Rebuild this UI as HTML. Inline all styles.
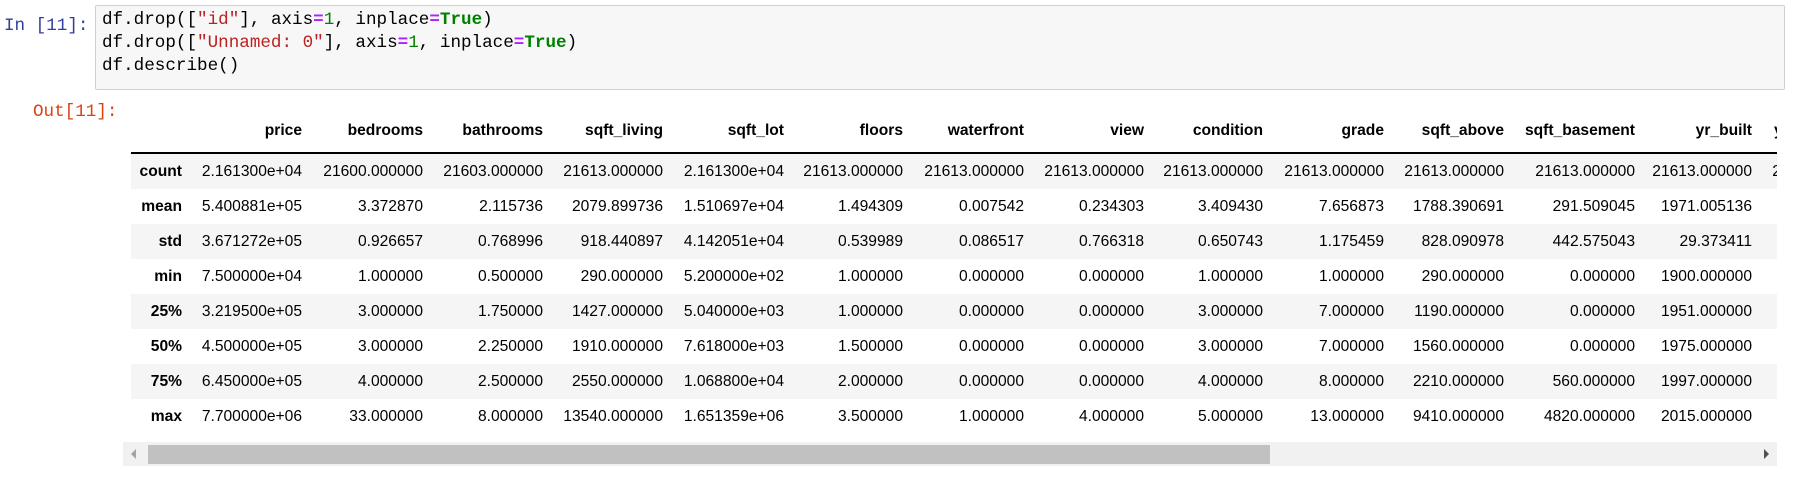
<!DOCTYPE html>
<html><head><meta charset="utf-8"><style>
body{margin:0;width:1800px;height:493px;background:#fff;position:relative;overflow:hidden;font-family:"Liberation Sans",Arial,sans-serif;}
.mono{font-family:"Liberation Mono",monospace;font-size:17.6px;}
#prompt-in{position:absolute;left:4px;top:14px;line-height:24px;color:#303F9F;}
#prompt-out{position:absolute;left:33px;top:100px;line-height:24px;color:#D84315;}
#code{position:absolute;left:95px;top:5px;width:1690px;height:85px;background:#f7f7f7;border:1px solid #cfcfcf;border-radius:2px;box-sizing:border-box;}
#code pre{margin:0;position:absolute;left:6px;top:3px;line-height:23px;color:#000;}
.s{color:#BA2121}.o{color:#AA22FF;font-weight:bold}.n{color:#008000}.k{color:#008000;font-weight:bold}
#wrap{position:absolute;left:131px;top:110px;width:1646px;height:330px;overflow:hidden;}
table{border-collapse:collapse;table-layout:fixed;width:1748px;font-size:15.6px;color:#000;}
td,th{text-align:right;padding:0 7px 0 0;white-space:nowrap;overflow:visible;}
thead th{height:42px;vertical-align:middle;border-bottom:2px solid #000;font-weight:bold;}
tbody td,tbody th{height:35px;}
tbody th{font-weight:bold;}
tbody tr:nth-child(odd){background:#f5f5f5;}
#scroll{position:absolute;left:123px;top:442px;width:1654px;height:24px;background:#f1f1f1;}
#thumb{position:absolute;left:25px;top:3px;width:1122px;height:19px;background:#c1c1c1;}
.arr{position:absolute;top:7px;width:0;height:0;border-top:5px solid transparent;border-bottom:5px solid transparent;}
#al{left:8px;border-right:5px solid #a3a3a3;}
#ar{right:8px;border-left:5px solid #505050;}
</style></head><body>
<div id="prompt-in" class="mono">In [11]:</div>
<div id="code"><pre class="mono">df.drop([<span class="s">"id"</span>], axis<span class="o">=</span><span class="n">1</span>, inplace<span class="o">=</span><span class="k">True</span>)
df.drop([<span class="s">"Unnamed: 0"</span>], axis<span class="o">=</span><span class="n">1</span>, inplace<span class="o">=</span><span class="k">True</span>)
df.describe()</pre></div>
<div id="prompt-out" class="mono">Out[11]:</div>
<div id="wrap">
<table>
<colgroup><col style="width:58px"><col style="width:120px"><col style="width:121px"><col style="width:120px"><col style="width:120px"><col style="width:121px"><col style="width:119px"><col style="width:121px"><col style="width:120px"><col style="width:119px"><col style="width:121px"><col style="width:120px"><col style="width:131px"><col style="width:117px"><col style="width:120px"></colgroup>
<thead><tr><th></th><th>price</th><th>bedrooms</th><th>bathrooms</th><th>sqft_living</th><th>sqft_lot</th><th>floors</th><th>waterfront</th><th>view</th><th>condition</th><th>grade</th><th>sqft_above</th><th>sqft_basement</th><th>yr_built</th><th>yr_renovated</th></tr></thead>
<tbody>
<tr><th>count</th><td>2.161300e+04</td><td>21600.000000</td><td>21603.000000</td><td>21613.000000</td><td>2.161300e+04</td><td>21613.000000</td><td>21613.000000</td><td>21613.000000</td><td>21613.000000</td><td>21613.000000</td><td>21613.000000</td><td>21613.000000</td><td>21613.000000</td><td>21613.000000</td></tr>
<tr><th>mean</th><td>5.400881e+05</td><td>3.372870</td><td>2.115736</td><td>2079.899736</td><td>1.510697e+04</td><td>1.494309</td><td>0.007542</td><td>0.234303</td><td>3.409430</td><td>7.656873</td><td>1788.390691</td><td>291.509045</td><td>1971.005136</td><td>84.402258</td></tr>
<tr><th>std</th><td>3.671272e+05</td><td>0.926657</td><td>0.768996</td><td>918.440897</td><td>4.142051e+04</td><td>0.539989</td><td>0.086517</td><td>0.766318</td><td>0.650743</td><td>1.175459</td><td>828.090978</td><td>442.575043</td><td>29.373411</td><td>401.679240</td></tr>
<tr><th>min</th><td>7.500000e+04</td><td>1.000000</td><td>0.500000</td><td>290.000000</td><td>5.200000e+02</td><td>1.000000</td><td>0.000000</td><td>0.000000</td><td>1.000000</td><td>1.000000</td><td>290.000000</td><td>0.000000</td><td>1900.000000</td><td>0.000000</td></tr>
<tr><th>25%</th><td>3.219500e+05</td><td>3.000000</td><td>1.750000</td><td>1427.000000</td><td>5.040000e+03</td><td>1.000000</td><td>0.000000</td><td>0.000000</td><td>3.000000</td><td>7.000000</td><td>1190.000000</td><td>0.000000</td><td>1951.000000</td><td>0.000000</td></tr>
<tr><th>50%</th><td>4.500000e+05</td><td>3.000000</td><td>2.250000</td><td>1910.000000</td><td>7.618000e+03</td><td>1.500000</td><td>0.000000</td><td>0.000000</td><td>3.000000</td><td>7.000000</td><td>1560.000000</td><td>0.000000</td><td>1975.000000</td><td>0.000000</td></tr>
<tr><th>75%</th><td>6.450000e+05</td><td>4.000000</td><td>2.500000</td><td>2550.000000</td><td>1.068800e+04</td><td>2.000000</td><td>0.000000</td><td>0.000000</td><td>4.000000</td><td>8.000000</td><td>2210.000000</td><td>560.000000</td><td>1997.000000</td><td>0.000000</td></tr>
<tr><th>max</th><td>7.700000e+06</td><td>33.000000</td><td>8.000000</td><td>13540.000000</td><td>1.651359e+06</td><td>3.500000</td><td>1.000000</td><td>4.000000</td><td>5.000000</td><td>13.000000</td><td>9410.000000</td><td>4820.000000</td><td>2015.000000</td><td>2015.000000</td></tr>
</tbody></table>
</div>
<div id="scroll">
<div id="al" class="arr"></div>
<div id="thumb"></div>
<div id="ar" class="arr"></div>
</div>
</body></html>
